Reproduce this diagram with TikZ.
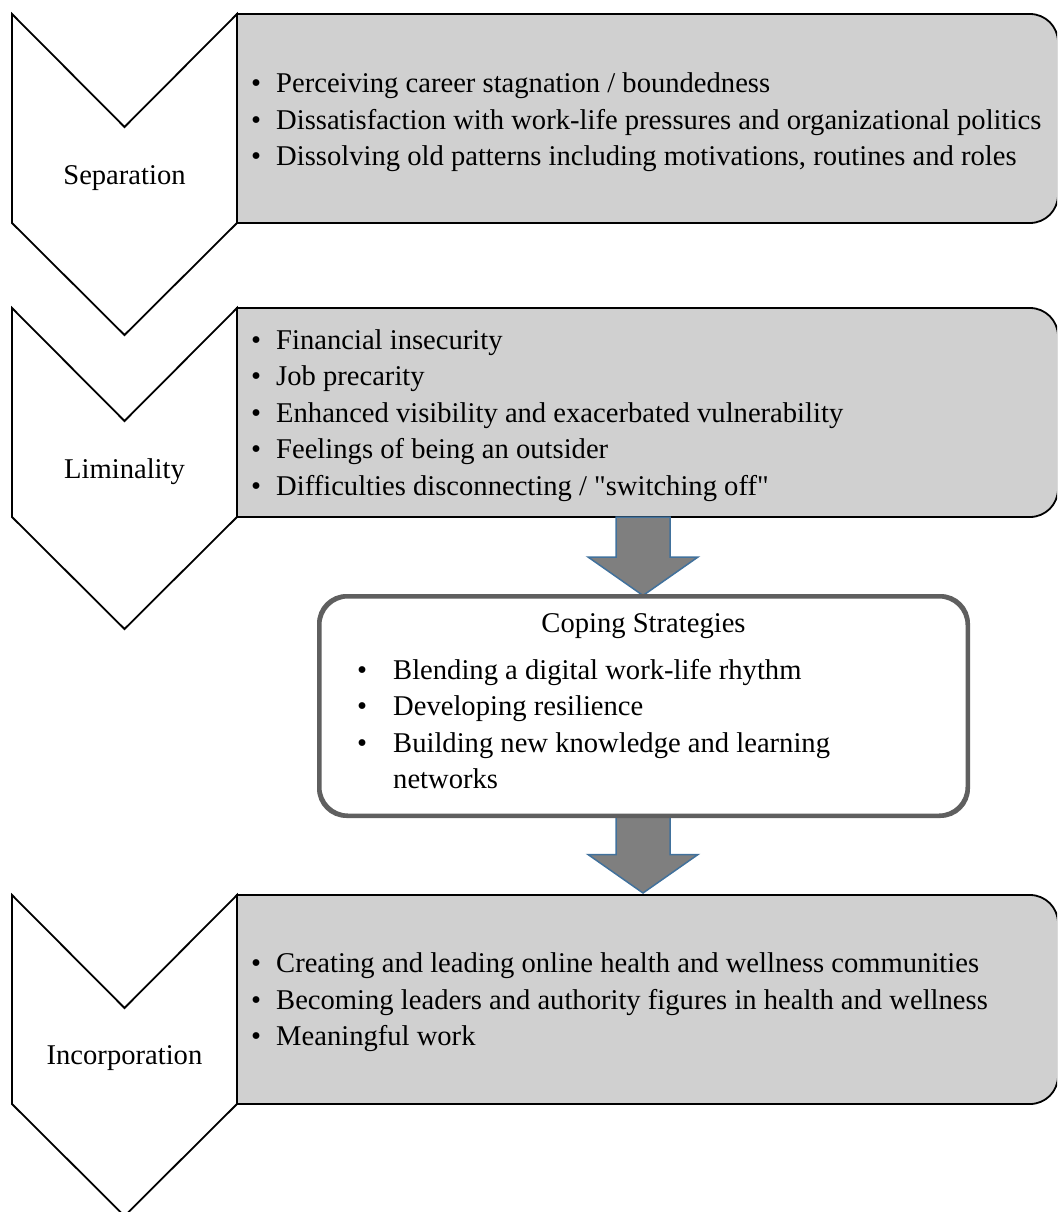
\documentclass[tikz,border=0pt]{standalone}
\usepackage{fontspec}
\setmainfont{Liberation Serif}[Ligatures=TeXOff]
\usetikzlibrary{calc}
\definecolor{boxgray}{HTML}{D0D0D0}
\definecolor{arrowfill}{HTML}{7F7F7F}
\definecolor{arrowedge}{HTML}{41719C}
\definecolor{copeedge}{HTML}{5F5F5F}
% bullet item with a fixed tab after the bullet
\newcommand\itm[1]{\makebox[25pt][l]{•}#1}
\newcommand\citm[1]{\makebox[50pt][l]{\hspace{14pt}•}#1}
\begin{document}
\begin{tikzpicture}[x=1pt,y=1pt,
  chevline/.style={draw=black,fill=white,line width=1.8pt,line join=miter},
  graybox/.style={draw=black,fill=boxgray,line width=1.8pt},
  blockarrow/.style={fill=arrowfill,draw=arrowedge,line width=1.5pt,line join=miter},
  phase/.style={font=\fontsize{28.6}{36.5}\selectfont,inner sep=0pt},
  itemtext/.style={font=\fontsize{28.6}{36.5}\selectfont,align=left,inner sep=0pt,anchor=west},
  chevron/.pic={\path[chevline] (-112.5,0) -- (0,-113) -- (112.5,0) -- (112.5,-209) -- (0,-321) -- (-112.5,-209) -- cycle;},
  stagebox/.pic={\path[graybox] (0,0) -- (793,0) arc[start angle=90,end angle=0,radius=28] -- (821,-181) arc[start angle=0,end angle=-90,radius=28] -- (0,-209) -- cycle;}
]
\useasboundingbox (0,0) rectangle (1057,-1212);
\clip (0,0) rectangle (1057,-1212);

% phase chevrons
\pic at (124.5,-14) {chevron};
\pic at (124.5,-308) {chevron};
\pic at (124.5,-895) {chevron};

% grey content boxes
\pic at (237,-14) {stagebox};
\pic at (237,-308) {stagebox};
\pic at (237,-895) {stagebox};

% phase labels
\node[phase] (sep) at (124.5,-178) {Separation};
\node[phase] (lim) at (124.5,-472) {Liminality};
\node[phase] (inc) at (124.5,-1058) {Incorporation};

% box contents
\node[itemtext] (sepbox) at (251,-122.5) {\itm{Perceiving career stagnation / boundedness}\\
  \itm{Dissatisfaction with work-life pressures and organizational politics}\\
  \itm{Dissolving old patterns including motivations, routines and roles}};
\node[itemtext] (limbox) at (251,-415.5) {\itm{Financial insecurity}\\
  \itm{Job precarity}\\
  \itm{Enhanced visibility and exacerbated vulnerability}\\
  \itm{Feelings of being an outsider}\\
  \itm{Difficulties disconnecting / "switching off"}};
\node[itemtext] (incbox) at (251,-1002.5) {\itm{Creating and leading online health and wellness communities}\\
  \itm{Becoming leaders and authority figures in health and wellness}\\
  \itm{Meaningful work}};

% attachment points of the block arrows
\coordinate (limfoot) at (643,-517);

% coping strategies box
\node[draw=copeedge,fill=white,line width=3pt,rounded corners=28,minimum width=647pt,minimum height=218pt,inner sep=0pt] (cope) at (643.5,-706) {};
\node[phase] (copetitle) at (643.5,-626) {Coping Strategies};
\node[itemtext] (copelist) at (343,-724) {\citm{Blending a digital work-life rhythm}\\
  \citm{Developing resilience}\\
  \citm{Building new knowledge and learning}\\
  \hspace{50pt}networks};

\coordinate (inchead) at (643,-893);

% block arrows
\path[blockarrow] ($(limfoot)+(-27,0)$) -- ($(limfoot)+(27,0)$) -- ($(limfoot)+(27,-40)$) -- ($(limfoot)+(55,-40)$)
  -- ($(cope.north)+(-0.5,0)$) -- ($(limfoot)+(-55,-40)$) -- ($(limfoot)+(-27,-40)$) -- cycle;
\path[blockarrow] ($(cope.south)+(-27.5,0)$) -- ($(cope.south)+(26.5,0)$) -- ($(cope.south)+(26.5,-38)$) -- ($(cope.south)+(54.5,-38)$)
  -- (inchead) -- ($(cope.south)+(-55.5,-38)$) -- ($(cope.south)+(-27.5,-38)$) -- cycle;
% redraw the coping box edge over the arrow tails
\draw[copeedge,line width=3pt,rounded corners=28] (cope.north west) rectangle (cope.south east);
\end{tikzpicture}
\end{document}
